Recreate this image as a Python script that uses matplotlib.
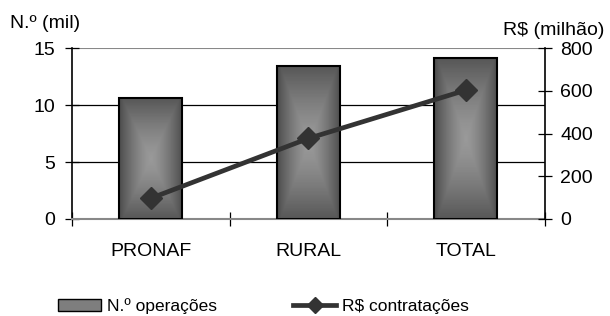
import numpy as np
import matplotlib.pyplot as plt
from matplotlib.patches import Rectangle
from matplotlib.lines import Line2D

plt.rcParams['font.family'] = ['Liberation Sans', 'DejaVu Sans']

categories = ["PRONAF", "RURAL", "TOTAL"]
operacoes = [10.6, 13.4, 14.1]        # N.º (mil)
contratacoes = [97, 377, 603]         # R$ (milhão)


def gradient_img(n=100):
    # light in the middle, dark towards the edges (rectangular "from centre" fill)
    u = np.linspace(-1, 1, n)
    X, Y = np.meshgrid(u, u)
    d = np.maximum(np.abs(X), np.abs(Y) * 0.9)
    return 0.60 - 0.30 * d ** 1.4


fig = plt.figure(figsize=(6.1, 3.16), dpi=100)
ax = fig.add_axes([0.118, 0.307, 0.775, 0.541])
x = np.arange(len(categories))
w = 0.4

ax.set_xlim(-0.5, 2.5)
ax.set_ylim(0, 15)
img = gradient_img()
for xi, v in zip(x, operacoes):
    rect = Rectangle((xi - w / 2, 0), w, v, facecolor='none', edgecolor='black', lw=1.5, zorder=3)
    ax.add_patch(rect)
    im = ax.imshow(img, cmap='gray', vmin=0, vmax=1, extent=(xi - w / 2, xi + w / 2, 0, v),
                   aspect='auto', zorder=2, interpolation='bilinear')
    im.set_clip_path(rect)

ax.set_yticks([0, 5, 10, 15])
for yv in [5, 10]:
    ax.axhline(yv, color='black', lw=0.9, zorder=1)
ax.axhline(15, color='#888888', lw=1.5, zorder=1)
ax.set_xticks([-0.5, 0.5, 1.5, 2.5])
ax.set_xticklabels([])
ax.set_xticks(x, minor=True)
ax.set_xticklabels(categories, minor=True)
ax.tick_params(axis='x', which='minor', length=0, pad=17, labelsize=14)
ax.tick_params(axis='x', which='major', direction='inout', length=10, width=0.9)
ax.tick_params(axis='y', direction='inout', length=10, width=0.9, labelsize=14, pad=7)
for s in ['top', 'right']:
    ax.spines[s].set_visible(False)
ax.spines['left'].set_linewidth(1.2)
ax.spines['bottom'].set_color('#888888')
ax.spines['bottom'].set_linewidth(1.5)

ax2 = ax.twinx()
ax2.set_ylim(0, 800)
ax2.set_yticks([0, 200, 400, 600, 800])
ax2.plot(x, contratacoes, color='#333333', lw=3.4, marker='D', markersize=11, zorder=5)
ax2.tick_params(axis='y', direction='inout', length=10, width=0.9, labelsize=14, pad=6)
for s in ['top', 'left', 'bottom']:
    ax2.spines[s].set_visible(False)
ax2.spines['right'].set_linewidth(1.2)

fig.text(0.016, 0.925, "N.º (mil)", fontsize=14, ha='left', va='center')
fig.text(0.99, 0.905, "R$ (milhão)", fontsize=14, ha='right', va='center')

bar_handle = Rectangle((0, 0), 1, 1, facecolor='#7e7e7e', edgecolor='black', lw=1.0)
line_handle = Line2D([], [], color='#333333', lw=3.4, marker='D', markersize=8)
fig.legend([bar_handle, line_handle], ["N.º operações", "R$ contratações"], loc='center left',
           bbox_to_anchor=(0.095, 0.03), ncol=2, frameon=False, fontsize=12.5,
           columnspacing=4.4, handlelength=2.5, handletextpad=0.3,
           borderpad=0, borderaxespad=0)

fig.savefig("out.png", dpi=100)
